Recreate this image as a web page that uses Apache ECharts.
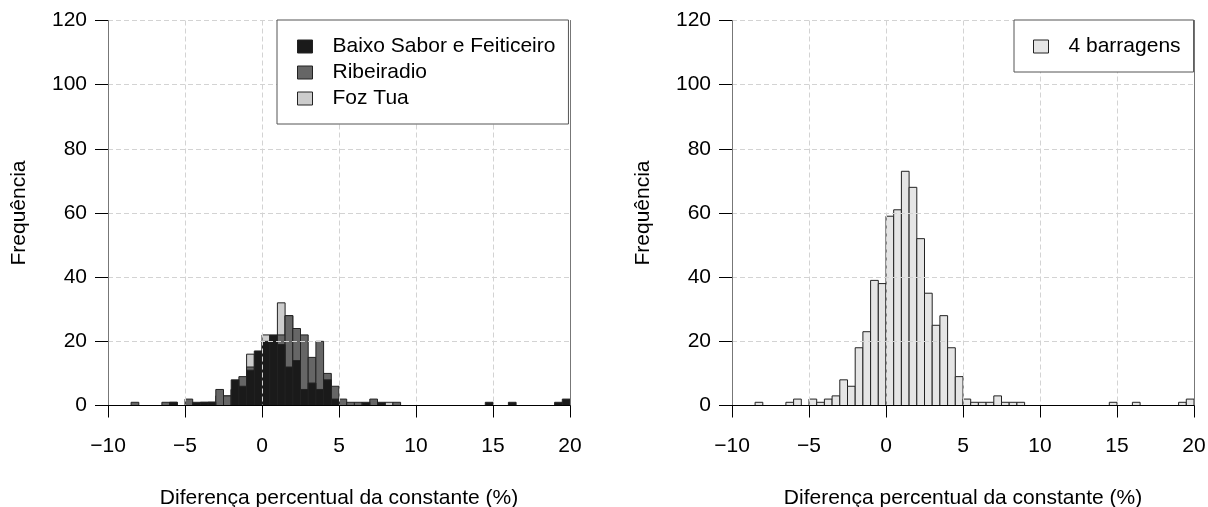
<!DOCTYPE html>
<html>
<head>
<meta charset="utf-8">
<script src="https://cdn.jsdelivr.net/npm/echarts@6/dist/echarts.min.js"></script>
<style>html,body{margin:0;padding:0;background:#fff}#c{width:1208px;height:507px}</style>
</head>
<body>
<div id="c"></div>
<script>
// Histogram bins: width 0.5, from -10 to 20 (60 bins)
const binLow = -10;
const binWidth = 0.5;
const xTicks = [-10, -5, 0, 5, 10, 15, 20];
const yTicks = [0, 20, 40, 60, 80, 100, 120];

// counts per bin (index 0 = [-10,-9.5) ... index 59 = [19.5,20])
const baixoSabor = [0,0,0,0,0,0,0,0,1,0, 0,1,1,1,0,0,8,6,11,17, 20,22,19,12,14,5,7,5,8,2, 0,0,0,1,0,1,0,0,0,0, 0,0,0,0,0,0,0,0,0,1, 0,0,1,0,0,0,0,0,1,2];
const ribeiradio = [0,0,0,1,0,0,0,1,1,0, 2,0,1,1,5,3,5,9,12,11, 17,20,22,28,24,22,15,20,10,6, 2,1,1,0,2,0,0,1,0,0, 0,0,0,0,0,0,0,0,0,0, 0,0,0,0,0,0,0,0,0,0];
const fozTua = [0,0,0,0,0,0,0,0,0,0, 0,0,0,1,3,3,5,8,16,10, 22,19,32,28,14,8,3,3,0,1, 0,0,0,0,1,0,1,0,0,0, 0,0,0,0,0,0,0,0,0,0, 0,0,0,0,0,0,0,0,0,0];
const quatroBarragens = [0,0,0,1,0,0,0,1,2,0, 2,1,2,3,8,6,18,23,39,38, 59,61,73,68,52,35,25,28,18,9, 2,1,1,1,3,1,1,1,0,0, 0,0,0,0,0,0,0,0,0,1, 0,0,1,0,0,0,0,0,1,2];

const seriesNames = ['Baixo Sabor e Feiticeiro', 'Ribeiradio', 'Foz Tua'];
const rightName = '4 barragens';
const xTitle = 'Diferença percentual da constante (%)';
const yTitle = 'Frequência';

function toBins(counts) {
  return counts.map((c, i) => [binLow + i * binWidth, binLow + (i + 1) * binWidth, c]);
}

function renderItem(params, api) {
  const c = api.value(2);
  if (!c) return null;
  const p0 = api.coord([api.value(0), c]);
  const p1 = api.coord([api.value(1), 0]);
  return {
    type: 'rect',
    shape: { x: p0[0], y: p0[1], width: p1[0] - p0[0], height: p1[1] - p0[1] },
    style: { fill: api.visual('color'), stroke: '#222', lineWidth: 1 }
  };
}

const FONT = "'Liberation Sans', Arial, sans-serif";
const txt = { fontFamily: FONT, fontSize: 21, color: '#000' };

function xAxis(gi) {
  return {
    type: 'value', gridIndex: gi, min: -10, max: 20, interval: 5, z: 5,
    name: xTitle, nameLocation: 'middle', nameGap: 82, nameTextStyle: txt,
    axisLine: { show: true, onZero: false, lineStyle: { color: '#000', width: 1 } },
    axisTick: { show: true, length: 12, lineStyle: { color: '#000' } },
    axisLabel: Object.assign({ margin: 30, formatter: v => String(v).replace('-', '\u2212') }, txt),
    splitLine: { show: true, lineStyle: { color: '#d3d3d3', type: [5, 3], width: 1 } }
  };
}
function yAxis(gi) {
  return {
    type: 'value', gridIndex: gi, min: 0, max: 120, interval: 20, z: 5,
    name: yTitle, nameLocation: 'middle', nameGap: 78, nameTextStyle: txt,
    axisLine: { show: true, onZero: false, lineStyle: { color: '#777', width: 1 } },
    axisTick: { show: true, length: 13, lineStyle: { color: '#000' } },
    axisLabel: Object.assign({ margin: 21 }, txt),
    splitLine: { show: true, lineStyle: { color: '#d3d3d3', type: [5, 3], width: 1 } }
  };
}
function yRight(gi) {
  return {
    type: 'value', gridIndex: gi, min: 0, max: 120, position: 'right', z: 5,
    axisLine: { show: true, onZero: false, lineStyle: { color: '#777', width: 1 } },
    axisTick: { show: false }, axisLabel: { show: false }, splitLine: { show: false }
  };
}

const legendCommon = {
  orient: 'vertical', selectedMode: false, icon: 'rect',
  itemWidth: 15, itemHeight: 13, itemGap: 5,
  borderColor: '#555', borderWidth: 1, backgroundColor: '#fff',
  itemStyle: { borderColor: '#222', borderWidth: 1 },
  textStyle: { fontFamily: FONT, fontSize: 21, lineHeight: 21, color: '#000', padding: [0, 0, 0, 15] },
  z: 10
};

const option = {
  animation: false,
  backgroundColor: '#fff',
  grid: [
    { left: 108, top: 20.5, width: 462, height: 385, outerBoundsMode: 'none', containLabel: false },
    { left: 732, top: 20.5, width: 462, height: 385, outerBoundsMode: 'none', containLabel: false }
  ],
  xAxis: [xAxis(0), xAxis(1)],
  yAxis: [yAxis(0), yAxis(1), yRight(0), yRight(1)],
  legend: [
    Object.assign({}, legendCommon, { left: 277, top: 20, padding: [16, 13, 15, 20],
      data: seriesNames }),
    Object.assign({}, legendCommon, { left: 1014, top: 20, padding: [16, 13, 15, 19],
      data: [rightName] })
  ],
  series: [
    { name: 'Foz Tua', type: 'custom', xAxisIndex: 0, yAxisIndex: 0, renderItem,
      itemStyle: { color: '#cccccc' }, encode: { x: [0, 1], y: 2 }, data: toBins(fozTua) },
    { name: 'Ribeiradio', type: 'custom', xAxisIndex: 0, yAxisIndex: 0, renderItem,
      itemStyle: { color: '#666666' }, encode: { x: [0, 1], y: 2 }, data: toBins(ribeiradio) },
    { name: 'Baixo Sabor e Feiticeiro', type: 'custom', xAxisIndex: 0, yAxisIndex: 0, renderItem,
      itemStyle: { color: '#1a1a1a' }, encode: { x: [0, 1], y: 2 }, data: toBins(baixoSabor) },
    { name: rightName, type: 'custom', xAxisIndex: 1, yAxisIndex: 1, renderItem,
      itemStyle: { color: '#e5e5e5' }, encode: { x: [0, 1], y: 2 }, data: toBins(quatroBarragens) }
  ]
};

const chart = echarts.init(document.getElementById('c'), null, { renderer: 'canvas' });
chart.setOption(option);
</script>
</body>
</html>
